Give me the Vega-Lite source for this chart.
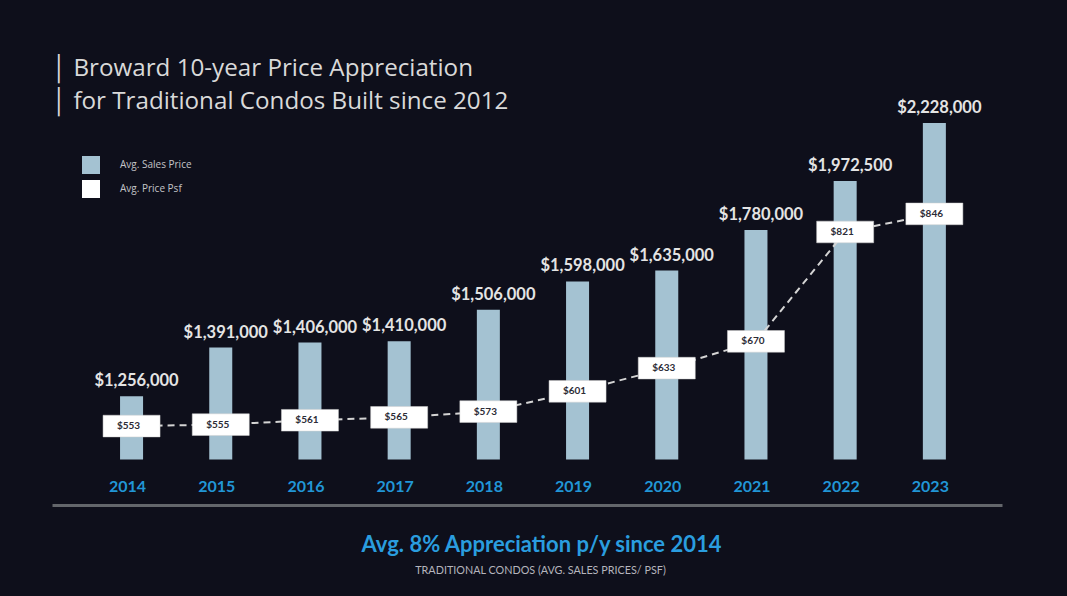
{
  "$schema": "https://vega.github.io/schema/vega-lite/v6.json",
  "width": 950,
  "height": 491,
  "autosize": {"type": "none"},
  "padding": {"left": 52, "top": 14, "right": 65, "bottom": 91},
  "background": "#0e0f1b",
  "config": {"view": {"stroke": null}, "font": "Lato"},
  "title": {
    "text": ["│  Broward 10-year Price Appreciation", "│  for Traditional Condos Built since 2012"],
    "anchor": "start",
    "frame": "group",
    "orient": "top",
    "offset": 0,
    "dx": -2,
    "dy": 100,
    "font": "Open Sans",
    "fontSize": 24.2,
    "fontWeight": 400,
    "color": "#d9d9d9",
    "lineHeight": 33
  },
  "data": {
    "values": [
      {"year": "2014", "price": 1256000, "psf": 553},
      {"year": "2015", "price": 1391000, "psf": 555},
      {"year": "2016", "price": 1406000, "psf": 561},
      {"year": "2017", "price": 1410000, "psf": 565},
      {"year": "2018", "price": 1506000, "psf": 573},
      {"year": "2019", "price": 1598000, "psf": 601},
      {"year": "2020", "price": 1635000, "psf": 633},
      {"year": "2021", "price": 1780000, "psf": 670},
      {"year": "2022", "price": 1972500, "psf": 821},
      {"year": "2023", "price": 2228000, "psf": 846}
    ]
  },
  "layer": [
    {
      "encoding": {
        "x": {
          "field": "year",
          "type": "nominal",
          "scale": {"type": "band", "paddingInner": 0.742, "paddingOuter": 0.696, "align": 0.548},
          "axis": {
            "title": "Avg. 8% Appreciation p/y since 2014",
            "titleFont": "Lato",
            "titleFontSize": 22,
            "titleFontWeight": 700,
            "titleColor": "#2a9ddf",
            "titleX": 489,
            "titleY": 46,
            "titleAlign": "center",
            "titleBaseline": "alphabetic",
            "labelAngle": 0,
            "labelFont": "Lato",
            "labelFontSize": 16,
            "labelFontWeight": 700,
            "labelColor": "#2196d6",
            "labelPadding": -14,
            "labelBaseline": "alphabetic",
            "labelOffset": -4,
            "ticks": false,
            "grid": false,
            "domainColor": "#63666b",
            "domainWidth": 3
          }
        }
      },
      "layer": [
        {
          "mark": {"type": "bar"},
          "encoding": {
            "y": {"field": "price", "type": "quantitative", "scale": {"type": "log", "domain": [1000000, 2800000]}, "axis": null},
            "y2": {"datum": 1100000},
            "color": {
              "datum": "Avg. Sales Price",
              "type": "nominal",
              "scale": {"domain": ["Avg. Sales Price", "Avg. Price Psf"], "range": ["#a4c2d2", "#ffffff"]},
              "legend": {
                "orient": "none",
                "legendX": 30,
                "legendY": 142,
                "title": null,
                "padding": 0,
                "symbolType": "square",
                "symbolSize": 324,
                "symbolStrokeWidth": 0,
                "labelFont": "Open Sans",
                "labelFontSize": 10,
                "labelFontWeight": 400,
                "labelColor": "#c4c4c8",
                "labelOffset": 20,
                "rowPadding": 6
              }
            }
          }
        },
        {
          "mark": {"type": "text", "dx": 5, "dy": -10, "baseline": "alphabetic", "font": "Lato", "fontSize": 16.5, "fontWeight": 700, "color": "#e4e4e4"},
          "encoding": {
            "y": {"field": "price", "type": "quantitative", "scale": {"type": "log", "domain": [1000000, 2800000]}, "axis": null},
            "text": {"field": "price", "type": "quantitative", "format": "$,.0f"}
          }
        }
      ]
    },
    {
      "encoding": {
        "x": {
          "field": "year",
          "type": "nominal",
          "axis": {
            "orient": "bottom",
            "title": "TRADITIONAL CONDOS (AVG. SALES PRICES/ PSF)",
            "titleFont": "Lato",
            "titleFontSize": 10.8,
            "titleFontWeight": 400,
            "titleColor": "#b5b5bd",
            "titleX": 488,
            "titleY": 68,
            "titleAlign": "center",
            "titleBaseline": "alphabetic",
            "labels": false,
            "ticks": false,
            "domain": false,
            "grid": false
          }
        },
        "y": {"field": "psf", "type": "quantitative", "scale": {"domain": [444, 1122]}, "axis": null}
      },
      "layer": [
        {
          "mark": {"type": "line", "strokeDash": [7, 5], "strokeWidth": 2, "color": "#d4d4d4"}
        },
        {
          "mark": {"type": "point", "shape": "M-1,-0.38H1V0.38H-1Z", "size": 3249, "filled": true, "opacity": 1, "stroke": "#d0d0d0", "strokeWidth": 0.5},
          "encoding": {
            "color": {"datum": "Avg. Price Psf", "type": "nominal"}
          }
        },
        {
          "mark": {"type": "text", "dx": -3, "baseline": "middle", "font": "Lato", "fontSize": 10, "fontWeight": 700, "color": "#2c2c36"},
          "encoding": {
            "text": {"field": "psf", "type": "quantitative", "format": "$,.0f"}
          }
        }
      ]
    }
  ],
  "resolve": {"scale": {"y": "independent"}, "axis": {"x": "independent"}}
}
